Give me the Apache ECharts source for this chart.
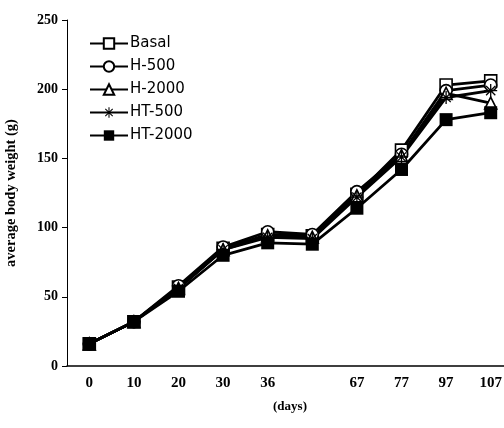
<!DOCTYPE html>
<html>
<head>
<meta charset="utf-8">
<script src="https://cdn.jsdelivr.net/npm/echarts@6/dist/echarts.min.js"></script>
<style>html,body{margin:0;padding:0;background:#fff;}#c{width:504px;height:428px;}</style>
</head>
<body>
<div id="c"></div>
<script>
const categories = ['0', '10', '20', '30', '36', '', '67', '77', '97', '107'];
const seriesNames = ['Basal', 'H-500', 'H-2000', 'HT-500', 'HT-2000'];
const basal  = [16, 32, 57, 85, 95, 94, 124, 156, 203, 206];
const h500   = [16, 32, 58, 86, 97, 95, 126, 153, 199, 203];
const h2000  = [16, 32, 56, 84, 94, 93, 123, 152, 197, 190];
const ht500  = [16, 32, 56, 84, 93, 92, 122, 151, 194, 199];
const ht2000 = [16, 32, 54, 80, 89, 88, 114, 142, 178, 183];
const yTicks = [0, 50, 100, 150, 200, 250];

const asterisk = 'path://M9,0h2v20h-2z M0,9h20v2h-20z M2.2,3.6l1.4,-1.4l14.2,14.2l-1.4,1.4z M16.4,2.2l1.4,1.4l-14.2,14.2l-1.4,-1.4z';

function mk(name, data, symbol, fill, size) {
  return {
    name: name, type: 'line', data: data,
    symbol: symbol, symbolSize: size,
    lineStyle: { color: '#000', width: 2.8 },
    itemStyle: { color: fill, borderColor: '#000', borderWidth: fill === '#000' ? 0 : 1.6 },
    emphasis: { disabled: true },
    animation: false
  };
}

const serif = 'Liberation Serif, Times New Roman, serif';
const chart = echarts.init(document.getElementById('c'), null, { renderer: 'canvas' });
chart.setOption({
  backgroundColor: '#fff',
  animation: false,
  grid: { left: 67, top: 20, width: 446, height: 346, outerBoundsMode: 'none', containLabel: false },
  legend: {
    orient: 'vertical', left: 84, top: 31, itemGap: 8,
    itemWidth: 38, itemHeight: 13,
    textStyle: { fontFamily: 'DejaVu Sans, Arial', fontSize: 15, color: '#000', padding: [0, 0, 0, -3] },
    data: seriesNames
  },
  xAxis: {
    type: 'category', data: categories, boundaryGap: true,
    name: '(days)', nameLocation: 'middle', nameGap: 34,
    nameTextStyle: { fontFamily: serif, fontWeight: 'bold', fontSize: 13, color: '#000' },
    axisLine: { lineStyle: { color: '#000', width: 1.5 } },
    axisTick: { inside: true, length: 5, lineStyle: { color: '#000' } },
    axisLabel: { fontFamily: serif, fontWeight: 'bold', fontSize: 15, color: '#000', margin: 10, interval: 0 }
  },
  yAxis: {
    type: 'value', min: 0, max: 250, interval: 50,
    name: 'average body weight (g)', nameLocation: 'middle', nameGap: 48, nameRotate: 90,
    nameTextStyle: { fontFamily: serif, fontWeight: 'bold', fontSize: 14.5, color: '#000' },
    axisLine: { show: true, lineStyle: { color: '#000', width: 1 } },
    axisTick: { show: true, inside: false, length: 5, lineStyle: { color: '#000' } },
    splitLine: { show: false },
    axisLabel: { fontFamily: serif, fontWeight: 'bold', fontSize: 14, color: '#000', margin: 9,
      formatter: function (v) { return yTicks.indexOf(v) >= 0 ? String(v) : ''; } }
  },
  series: [
    mk(seriesNames[0], basal, 'rect', '#fff', 12),
    mk(seriesNames[1], h500, 'circle', '#fff', 12),
    mk(seriesNames[2], h2000, 'triangle', '#fff', 12),
    mk(seriesNames[3], ht500, asterisk, '#000', 13),
    mk(seriesNames[4], ht2000, 'rect', '#000', 13)
  ]
});
</script>
</body>
</html>
